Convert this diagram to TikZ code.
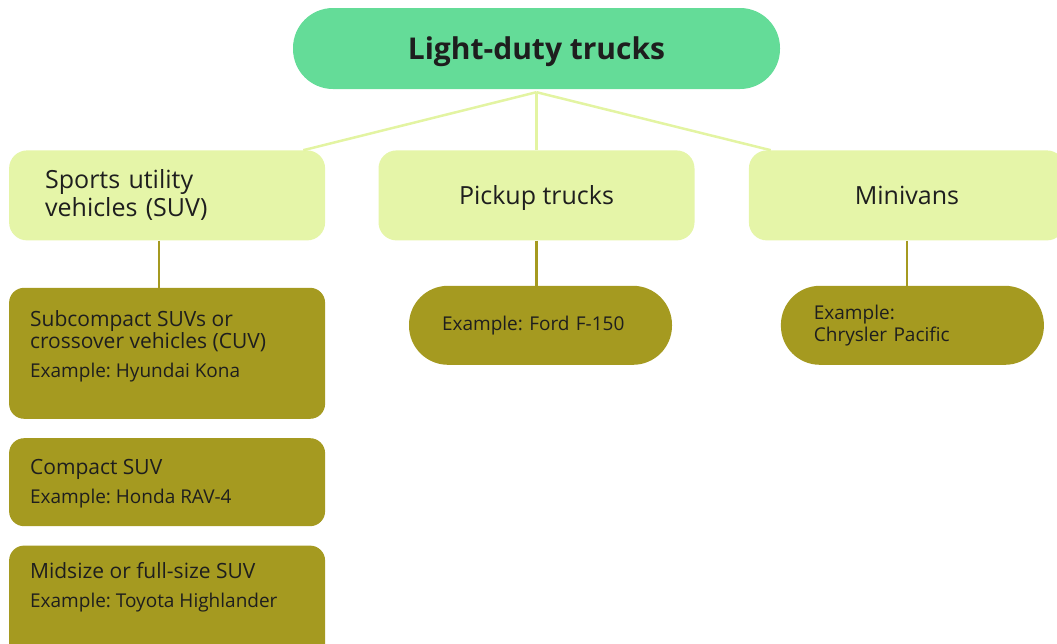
\documentclass[tikz,border=0pt]{standalone}
\usepackage{fontspec}
\setmainfont{Open Sans}
\frenchspacing
\usetikzlibrary{positioning}
\definecolor{rootC}{HTML}{64DC98}
\definecolor{catC}{HTML}{E5F5A8}
\definecolor{subC}{HTML}{A59A20}
\definecolor{inkC}{HTML}{1E1E1E}
\definecolor{linkC}{HTML}{E3F4A2}
\newcommand{\eg}[1]{{\fontsize{19}{22}\selectfont #1}}
\tikzset{
  rootbox/.style={fill=rootC, rounded corners=40pt, minimum width=487pt, minimum height=81pt,
                  text depth=0pt, text=inkC, font=\fontsize{30}{36}\selectfont\bfseries},
  catbox/.style={fill=catC, rounded corners=18pt, minimum width=316pt, minimum height=90pt,
                 text=inkC, font=\fontsize{25}{28}\selectfont},
  subbox/.style={fill=subC, rounded corners=15pt, minimum width=316pt},
  subtext/.style={inner sep=0pt, align=left, text=inkC, font=\fontsize{21}{22}\selectfont},
  pill/.style={fill=subC, rounded corners=39pt, minimum height=79pt, inner xsep=33pt,
               text width=197pt, align=left, text=inkC, font=\fontsize{19}{22}\selectfont},
  toplink/.style={draw=linkC, line width=2.5pt},
  sublink/.style={draw=subC, line width=2.5pt},
}
\begin{document}
\begin{tikzpicture}[x=1pt,y=1pt]
\useasboundingbox (0,0) rectangle (1057,-643);

% top level
\node[rootbox] (root) at (536.5,-48.5) {Light-duty trucks};

% categories
\node[catbox, below=61pt of root, text depth=0pt] (pickup) {Pickup trucks};
\node[catbox, left=53pt of pickup, text width=244pt, inner xsep=36pt, align=left] (suv)
  {Sports utility\\ vehicles (SUV)};
\node[catbox, right=54pt of pickup] (minivan) {Minivans};

\draw[toplink] ([yshift=-3pt]root.south) -- ([xshift=-22pt]suv.north east);
\draw[toplink] ([yshift=-3pt]root.south) -- (pickup.north);
\draw[toplink] ([yshift=-3pt]root.south) -- ([xshift=22pt]minivan.north west);

% SUV sizes
\node[subbox, minimum height=131pt, below=47pt of suv] (subc) {};
\node[subbox, minimum height=88pt, below=19pt of subc] (compact) {};
\node[subbox, minimum height=131pt, below=19pt of compact] (midsize) {};
\node[subtext, below right=23pt and 21pt of subc.north west] (subcT)
  {Subcompact SUVs or\\ crossover vehicles (CUV)\\[7pt] \eg{Example: Hyundai Kona}};
\node[subtext, below right=21pt and 21pt of compact.north west] (compactT)
  {Compact SUV\\[7pt] \eg{Example: Honda RAV-4}};
\node[subtext, below right=17pt and 21pt of midsize.north west] (midsizeT)
  {Midsize or full-size SUV\\[7pt] \eg{Example: Toyota Highlander}};
\draw[sublink] ([xshift=-8pt]suv.south) -- ([xshift=-8pt]suv.south |- subc.north);

% examples
\node[pill, below=45pt of pickup, xshift=4pt] (ford) {Example: Ford F-150};
\node[pill, below=45pt of minivan, xshift=5.5pt] (chrysler) {Example:\\ Chrysler Pacific};
\draw[sublink] (pickup.south) -- (pickup.south |- ford.north);
\draw[sublink] (minivan.south) -- (minivan.south |- chrysler.north);
\end{tikzpicture}
\end{document}
